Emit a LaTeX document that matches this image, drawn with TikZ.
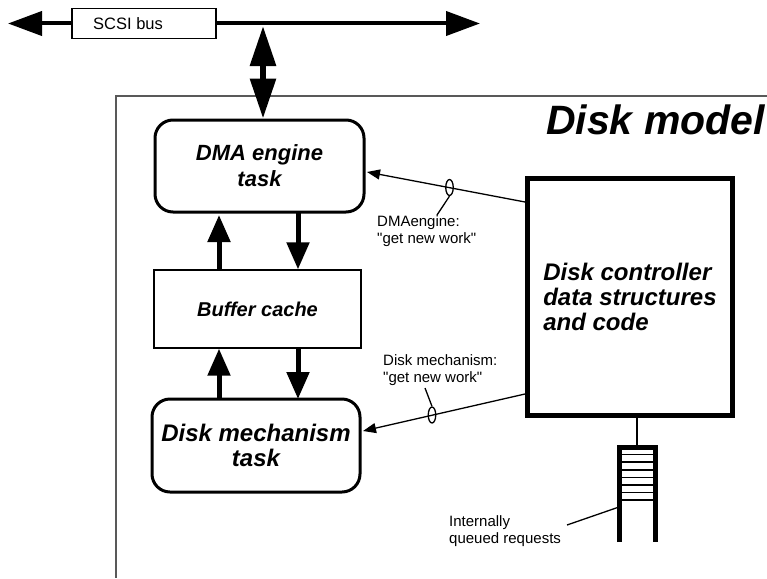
\documentclass[tikz,border=0pt]{standalone}
\usepackage{fontspec}
\setmainfont{Liberation Sans}
\usetikzlibrary{arrows.meta,shapes.geometric}
\begin{document}
\begin{tikzpicture}[x=1pt,y=-1pt,
  taskbox/.style={draw, line width=3, rounded corners=18, align=center, inner sep=0pt},
  bigarrow/.style={line width=5, -{Triangle[length=27pt,width=22pt]}},
  busarrow/.style={line width=4, -{Triangle[length=34pt,width=24pt]}},
  thinarrow/.style={line width=1.3, -{Triangle[length=13pt,width=10pt]}},
  lead/.style={line width=1.3},
  marker/.style={draw, line width=1.3, ellipse, minimum width=7.5pt, minimum height=16pt, inner sep=0pt},
  small/.style={font=\fontsize{15}{17}\selectfont, align=left, inner sep=0pt}
]
\useasboundingbox (0,0) rectangle (767,578);
% frame
\draw[gray!70!black, line width=1.3] (767,96) -- (116,96) -- (116,578);
\node[anchor=east, inner sep=0pt, font=\fontsize{41}{44}\selectfont\bfseries\itshape] (title) at (765,120) {Disk model};
% SCSI bus
\coordinate (busL) at (8,23.5);
\coordinate (busR) at (480,23.5);
\node[draw, line width=1.3, fill=white, minimum width=144pt, minimum height=30pt, inner sep=0pt] (scsi) at (144,23.5) {};
\node[anchor=west, inner sep=0pt, font=\fontsize{16.5}{18}\selectfont] (scsilbl) at (93,23.5) {SCSI bus};
\draw[busarrow] (scsi.west) -- (busL);
\draw[busarrow] (scsi.east) -- (busR);
% boxes
\node[taskbox, minimum width=209pt, minimum height=92pt, font=\fontsize{22}{26}\selectfont\bfseries\itshape] (dma) at (259.5,166) {DMA engine\\task};
\node[draw, line width=1.3, minimum width=207pt, minimum height=78pt, inner sep=0pt, font=\fontsize{20}{22}\selectfont\bfseries\itshape] (buf) at (257.5,309) {Buffer cache};
\node[taskbox, minimum width=208pt, minimum height=93pt, font=\fontsize{24}{25}\selectfont\bfseries\itshape] (mech) at (256,445.5) {Disk mechanism\\task};
\node[draw, line width=5, minimum width=205pt, minimum height=237pt, inner sep=0pt, align=left, font=\fontsize{24}{25}\selectfont\bfseries\itshape] (ctrl) at (630,296.5) {Disk controller\\data structures\\and code};
% bus <-> DMA
\draw[line width=6, {Triangle[length=40pt,width=25pt]}-{Triangle[length=40pt,width=25pt]}] (263,26) -- (dma.north -| 263,0);
% DMA <-> buffer
\draw[bigarrow] (buf.north -| 219,0) -- ([yshift=-1.5pt]dma.south -| 219,0);
\draw[bigarrow] ([yshift=1.5pt]dma.south -| 298,0) -- (buf.north -| 298,0);
\draw[bigarrow] ([yshift=-1.5pt]mech.north -| 219,0) -- (buf.south -| 219,0);
\draw[bigarrow] (buf.south -| 298,0) -- ([yshift=-1.5pt]mech.north -| 298,0);
% work arrows
\coordinate (w1s) at (ctrl.west |- 0,202);
\coordinate (w1e) at ([xshift=1.5pt]dma.east |- 0,172);
\draw[thinarrow] (w1s) -- (w1e);
\node[marker] (m1) at (449.5,187.5) {};
\coordinate (l1) at (437,215);
\draw[lead] (m1.south) -- (l1);
\node[small, anchor=west] (t1) at (377,231) {DMAengine:\\\textquotedbl get new work\textquotedbl};
\coordinate (w2s) at (ctrl.west |- 0,394);
\coordinate (w2e) at ([xshift=1.5pt]mech.east |- 0,431);
\draw[thinarrow] (w2s) -- (w2e);
\node[marker] (m2) at (432,415) {};
\coordinate (l2) at (425,388);
\draw[lead] (m2.north) -- (l2);
\node[small, anchor=west] (t2) at (383,370) {Disk mechanism:\\\textquotedbl get new work\textquotedbl};
% queue
\coordinate (qtop) at (637,447);
\draw[line width=2] (ctrl.south -| 637,0) -- (qtop);
\draw[line width=5] (619,542) -- (619,447) -- (655,447) -- (655,542);
\foreach \i in {1,...,7} {\draw[line width=1.5] (619,447+7.6*\i) -- (655,447+7.6*\i);}
\coordinate (qside) at (619,507);
\coordinate (ql) at (567,525);
\draw[lead] (ql) -- (qside);
\node[small, anchor=west] (t3) at (449,531) {Internally\\queued requests};
\end{tikzpicture}
\end{document}
